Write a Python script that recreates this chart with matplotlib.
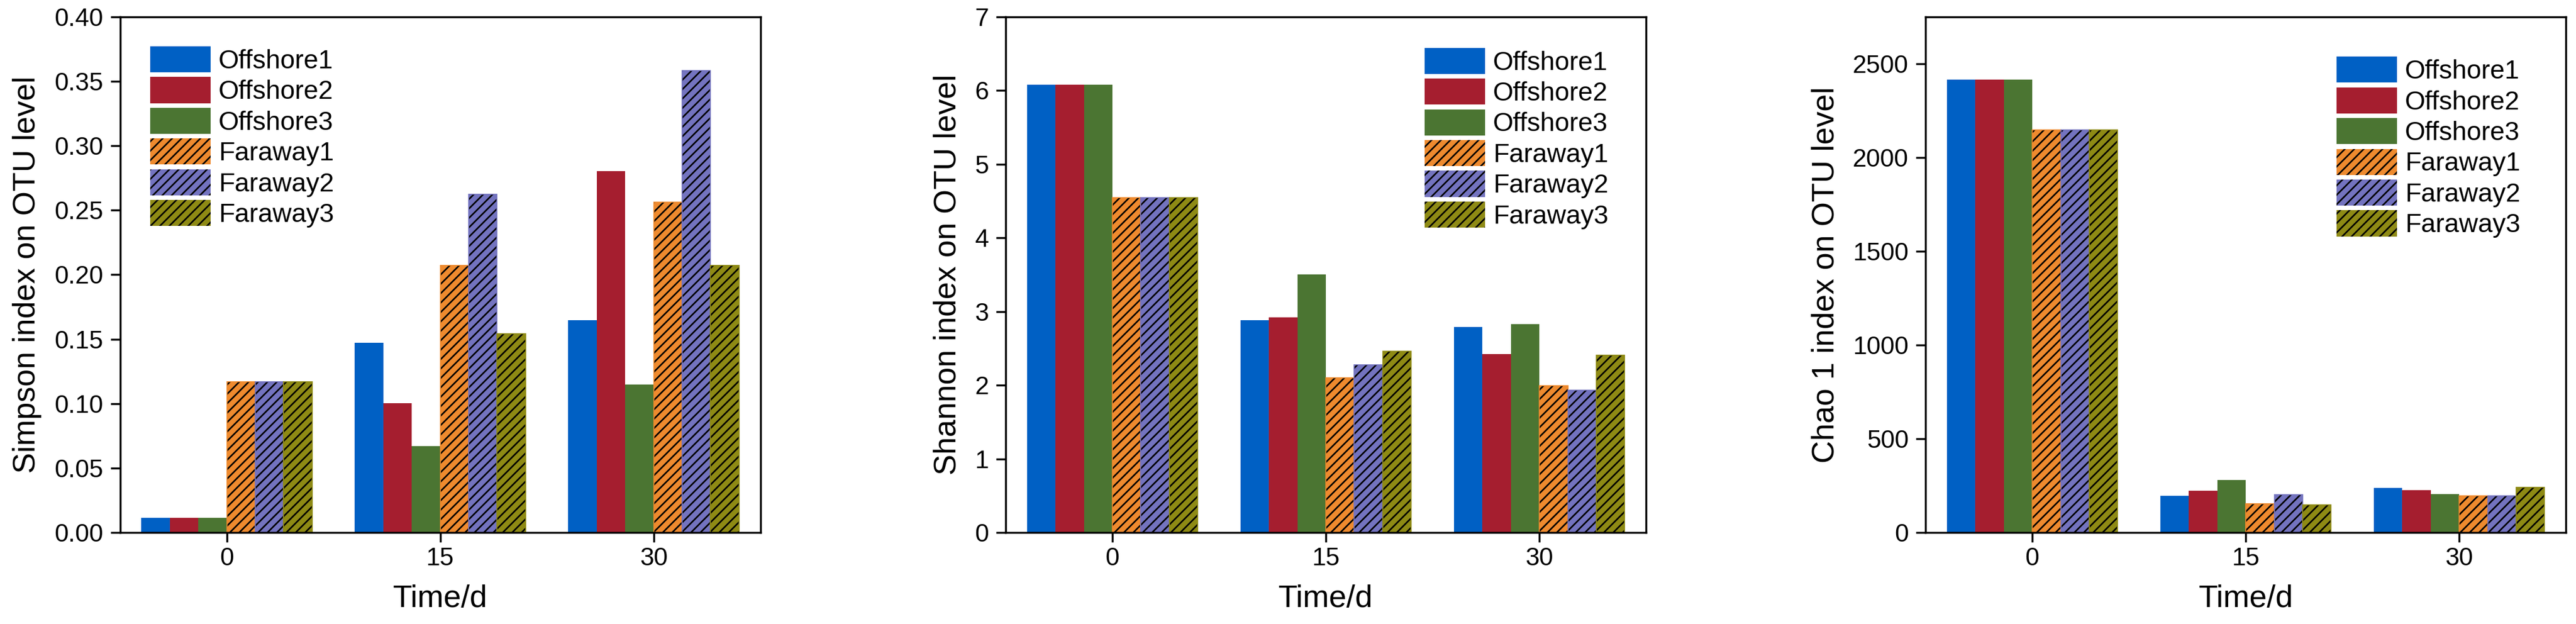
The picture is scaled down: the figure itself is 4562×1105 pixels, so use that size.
import numpy as np
import matplotlib
matplotlib.use("Agg")
import matplotlib.pyplot as plt

plt.rcParams['font.family'] = ['Liberation Sans', 'DejaVu Sans']
plt.rcParams['hatch.linewidth'] = 2.0

# time points and series
times = ['0', '15', '30']
series = ['Offshore1', 'Offshore2', 'Offshore3', 'Faraway1', 'Faraway2', 'Faraway3']
colors = ['#0060C4', '#A51E2F', '#4B7532', '#EE8A2E', '#7373BF', '#8E8A14']
hatched = [False, False, False, True, True, True]

# values, one row per series, columns = 0, 15, 30 d
simpson = [
    [0.0114, 0.1473, 0.1646],
    [0.0114, 0.1002, 0.2804],
    [0.0114, 0.0672, 0.1146],
    [0.1171, 0.2074, 0.2564],
    [0.1171, 0.2622, 0.3584],
    [0.1171, 0.1544, 0.2071],
]
shannon = [
    [6.08, 2.88, 2.79],
    [6.08, 2.92, 2.42],
    [6.08, 3.50, 2.83],
    [4.55, 2.10, 1.99],
    [4.55, 2.28, 1.93],
    [4.55, 2.46, 2.41],
]
chao1 = [
    [2417, 197, 237],
    [2417, 222, 227],
    [2417, 280, 206],
    [2148, 155, 195],
    [2148, 203, 197],
    [2148, 148, 242],
]

panels = [
    (simpson, 'Simpson index on OTU level', (0, 0.40), np.arange(0, 0.401, 0.05), '{:.2f}', (0.047, 0.943)),
    (shannon, 'Shannon index on OTU level', (0, 7), np.arange(0, 8, 1), '{:.0f}', (0.654, 0.94)),
    (chao1, 'Chao 1 index on OTU level', (0, 2750), np.arange(0, 2501, 500), '{:.0f}', (0.642, 0.923)),
]
lefts = [0.0466, 0.3904, 0.7475]

fig = plt.figure(figsize=(45.62, 11.05), dpi=100)

x = np.arange(len(times))
bw = 0.8 / len(series)

for (data, ylabel, ylim, yticks, fmt, leg_xy), left in zip(panels, lefts):
    ax = fig.add_axes([left, 0.1466, 0.2486, 0.8263])
    for i, (name, vals) in enumerate(zip(series, data)):
        pos = x - 0.4 + bw * (i + 0.5)
        if hatched[i]:
            ax.bar(pos, vals, bw, color=colors[i], edgecolor='black', linewidth=0,
                   hatch='//', label=name)
            ax.bar(pos, vals, bw, fill=False, edgecolor=colors[i], linewidth=1.2)
        else:
            ax.bar(pos, vals, bw, color=colors[i], edgecolor=colors[i], linewidth=0,
                   label=name)
    ax.set_xlim(-0.5, 2.5)
    ax.set_ylim(*ylim)
    ax.set_xticks(x)
    ax.set_xticklabels(times)
    ax.set_yticks(yticks)
    ax.set_yticklabels([fmt.format(v) for v in yticks])
    ax.tick_params(axis='both', direction='out', length=12, width=2.5,
                   labelsize=32, top=False, right=False)
    ax.tick_params(axis='x', pad=7)
    ax.tick_params(axis='y', pad=9.5)
    for sp in ax.spines.values():
        sp.set_linewidth(2.5)
    ax.set_xlabel('Time/d', fontsize=40, labelpad=18)
    ax.set_ylabel(ylabel, fontsize=40, labelpad=16)
    ax.legend(loc='upper left', bbox_to_anchor=leg_xy, frameon=False, fontsize=33.5,
              borderpad=0, borderaxespad=0, handlelength=2.3, handleheight=1.15,
              labelspacing=0.12, handletextpad=0.3)

fig.savefig('out.png', dpi=100)
